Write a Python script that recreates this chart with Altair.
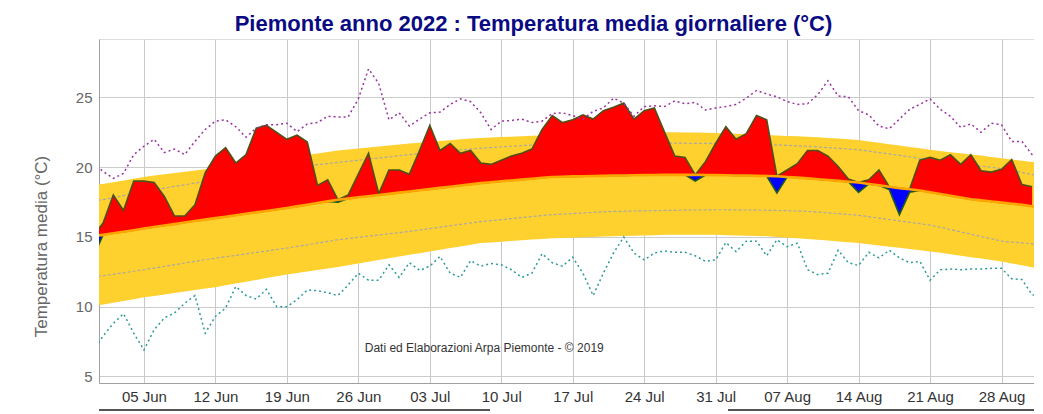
import altair as alt
import pandas as pd
import numpy as np

TITLE = "Piemonte anno 2022 : Temperatura media giornaliere (°C)"
Y_TITLE = "Temperatura media (°C)"
NOTE = "Dati ed Elaborazioni Arpa Piemonte - © 2019"
START = "2022-05-31"

# 2022 daily mean temperature (31 May .. 31 Aug)
actual = [13.5, 16.0, 18.0, 16.9, 19.0, 19.0, 18.9, 17.9, 16.5, 16.5, 17.3, 19.6, 20.8, 21.4, 20.3,
          20.9, 22.8, 23.0, 22.5, 22.0, 22.3, 21.8, 18.7, 19.1, 17.5, 18.0, 19.5, 21.0, 18.1, 19.8,
          19.8, 19.5, 21.2, 23.0, 21.2, 21.7, 21.0, 21.2, 20.3, 20.2, 20.5, 20.8, 21.0, 21.3, 22.7,
          23.7, 23.2, 23.4, 23.75, 23.45, 24.05, 24.3, 24.6, 23.45, 24.05, 24.25, 22.5, 20.8, 20.7,
          19.0, 20.4, 21.7, 22.9, 22.0, 22.4, 23.7, 23.4, 18.15, 19.8, 20.25, 21.2, 21.2, 20.8, 20.05,
          19.15, 18.2, 19.1, 19.8, 18.4, 16.6, 18.2, 20.5, 20.7, 20.5, 20.9, 20.2, 20.9, 19.75, 19.65,
          19.85, 20.55, 18.75, 18.6]

# climatology (31 May .. 1 Sep)
median = [15.05, 15.15, 15.26, 15.37, 15.48, 15.6,
          15.71, 15.82, 15.92, 16.03, 16.14, 16.24, 16.35,
          16.45, 16.55, 16.66, 16.76, 16.86, 16.97, 17.07,
          17.19, 17.31, 17.43, 17.55, 17.67,
          17.75, 17.84, 17.92, 18.01, 18.09, 18.18, 18.26,
          18.35, 18.43, 18.52, 18.6, 18.69, 18.77, 18.86,
          18.92, 18.99, 19.05, 19.11, 19.17, 19.24, 19.3,
          19.32, 19.34, 19.35, 19.37, 19.38, 19.4,
          19.41, 19.42, 19.43, 19.44, 19.45, 19.45, 19.45, 19.45,
          19.44, 19.43, 19.42, 19.41, 19.4, 19.38, 19.37, 19.35,
          19.3, 19.25, 19.2,
          19.14, 19.08, 19.02, 18.96, 18.9,
          18.8, 18.7, 18.6, 18.5, 18.42, 18.33,
          18.2, 18.08, 17.95, 17.83, 17.7,
          17.62, 17.54, 17.46, 17.38, 17.3, 17.2, 17.0]

band_high = [18.75, 18.8, 18.92, 19.05, 19.18, 19.3,
             19.4, 19.5, 19.58, 19.67, 19.76, 19.86, 19.95,
             20.05, 20.15, 20.25, 20.35, 20.45, 20.55, 20.65,
             20.76, 20.87, 20.98, 21.09, 21.2,
             21.27, 21.34, 21.41, 21.48, 21.55, 21.62, 21.7,
             21.76, 21.82, 21.88, 21.94, 22.0, 22.05, 22.1,
             22.13, 22.16, 22.19, 22.22, 22.25, 22.28, 22.3,
             22.33, 22.36, 22.38, 22.4, 22.43, 22.45,
             22.46, 22.47, 22.48, 22.49, 22.5,
             22.5, 22.49, 22.48, 22.47, 22.45,
             22.42, 22.39, 22.36, 22.33, 22.3,
             22.27, 22.24, 22.21, 22.18, 22.15,
             22.1, 22.05, 22.0, 21.95,
             21.85, 21.75, 21.65, 21.55, 21.45, 21.35, 21.25,
             21.16, 21.08, 21.0, 20.91, 20.83, 20.74, 20.65,
             20.56, 20.47, 20.38, 20.3]

band_low = [10.1, 10.15, 10.28, 10.41, 10.54, 10.67,
            10.77, 10.88, 10.98, 11.09, 11.19, 11.3, 11.4,
            11.53, 11.66, 11.79, 11.92, 12.05, 12.18, 12.3,
            12.41, 12.52, 12.63, 12.74, 12.84,
            12.97, 13.09, 13.22, 13.34, 13.47, 13.6, 13.72,
            13.84, 13.96, 14.08, 14.2, 14.32, 14.44, 14.56,
            14.61, 14.66, 14.71, 14.76, 14.81, 14.86, 14.9,
            14.93, 14.95, 14.98, 15.0, 15.03, 15.05,
            15.07, 15.09, 15.11, 15.13, 15.15,
            15.15, 15.15, 15.15, 15.15, 15.15,
            15.13, 15.11, 15.09, 15.07, 15.05,
            15.0, 14.95, 14.9, 14.85, 14.8,
            14.74, 14.68, 14.62, 14.56,
            14.47, 14.39, 14.3, 14.22, 14.13, 14.05, 13.96,
            13.86, 13.76, 13.65, 13.55, 13.45, 13.34, 13.24,
            13.1, 12.97, 12.83, 12.7]

inner_high = [17.6, 17.67, 17.82, 17.96, 18.11, 18.26,
              18.38, 18.5, 18.62, 18.74, 18.86, 18.98, 19.1,
              19.22, 19.34, 19.46, 19.58, 19.7, 19.82, 19.94,
              20.02, 20.1, 20.18, 20.26, 20.34,
              20.42, 20.5, 20.58, 20.66, 20.74, 20.82, 20.9,
              20.97, 21.04, 21.1, 21.17, 21.24, 21.3, 21.37,
              21.41, 21.46, 21.5, 21.55, 21.59, 21.64, 21.68,
              21.69, 21.7, 21.71, 21.71, 21.72, 21.73,
              21.73, 21.73, 21.73, 21.73, 21.73,
              21.72, 21.72, 21.71, 21.71, 21.7,
              21.68, 21.67, 21.65, 21.63, 21.62, 21.6,
              21.57, 21.53, 21.5,
              21.45, 21.4, 21.35, 21.3, 21.25,
              21.15, 21.05, 20.95, 20.85, 20.75, 20.62, 20.5,
              20.42, 20.33, 20.25, 20.16, 20.08, 19.99, 19.9,
              19.76, 19.62, 19.48, 19.35]

inner_low = [12.15, 12.22, 12.33, 12.43, 12.54, 12.65,
             12.77, 12.89, 13.01, 13.13, 13.25, 13.37, 13.48,
             13.58, 13.68, 13.79, 13.89, 13.99, 14.1, 14.2,
             14.32, 14.44, 14.56, 14.68, 14.8,
             14.89, 14.97, 15.06, 15.14, 15.23, 15.31, 15.4,
             15.5, 15.6, 15.7, 15.8, 15.9, 16.0, 16.1,
             16.17, 16.24, 16.31, 16.39, 16.46, 16.53, 16.6,
             16.64, 16.68, 16.72, 16.76, 16.8, 16.83,
             16.84, 16.86, 16.87, 16.89, 16.9,
             16.91, 16.92, 16.93, 16.94, 16.95,
             16.95, 16.94, 16.93, 16.92, 16.91, 16.9,
             16.88, 16.86, 16.83,
             16.78, 16.73, 16.67, 16.61, 16.55,
             16.45, 16.35, 16.25, 16.15, 16.05, 15.95, 15.85,
             15.69, 15.53, 15.36, 15.2,
             15.03, 14.87, 14.7,
             14.63, 14.57, 14.51, 14.45]

record_max = [20.3, 19.7, 19.2, 19.55, 20.9, 21.5, 22.0, 21.05, 21.3, 20.9, 21.85, 22.7, 23.3, 23.4,
              22.9, 22.15, 22.8, 23.05, 23.05, 23.15, 22.55, 23.1, 23.2, 23.65, 23.6, 23.6, 24.9,
              27.05, 26.0, 23.4, 23.9, 22.95, 23.45, 23.9, 23.95, 24.5, 24.9, 24.7, 23.9, 22.7,
              23.3, 23.35, 23.45, 23.2, 23.3, 23.85, 23.9, 23.7, 23.45, 24.0, 24.25, 24.95, 24.6,
              23.65, 24.35, 24.4, 24.35, 24.75, 24.55, 24.65, 24.1, 24.25, 24.35, 24.5, 24.95,
              25.5, 25.25, 25.05, 24.7, 24.5, 24.55, 25.2, 26.2, 25.1, 25.05, 24.05, 23.75, 22.95,
              22.75, 23.45, 24.15, 24.5, 24.9, 24.15, 23.65, 22.85, 23.1, 22.5, 23.15, 23.05,
              21.85, 21.85, 20.9, 20.4]

record_min = [6.8, 7.9, 8.8, 9.5, 8.1, 6.9, 8.35, 9.2, 9.55, 10.25, 10.8, 8.1, 9.3, 9.9, 11.45,
              10.8, 10.55, 11.25, 10.0, 10.0, 10.5, 11.2, 11.15, 11.0, 10.8, 11.55, 12.4, 11.9,
              11.9, 13.0, 12.1, 13.15, 12.6, 12.9, 13.6, 12.4, 12.1, 13.3, 12.9, 13.1, 13.0, 12.65,
              12.1, 12.4, 13.8, 13.15, 12.9, 13.55, 12.4, 10.8, 12.4, 13.85, 15.0, 13.85, 13.35,
              13.85, 14.0, 13.9, 13.9, 13.65, 13.25, 13.35, 14.6, 13.95, 14.7, 14.7, 13.65, 14.8,
              14.3, 14.55, 12.65, 12.3, 12.4, 14.05, 13.15, 12.95, 13.9, 13.5, 14.05, 13.5, 13.15,
              13.25, 11.9, 12.65, 12.7, 12.65, 12.7, 12.7, 12.75, 12.75, 12.0, 11.95, 10.85, 10.75]

TICK_DAYS = [(6, 5), (6, 12), (6, 19), (6, 26), (7, 3), (7, 10), (7, 17), (7, 24), (7, 31),
             (8, 7), (8, 14), (8, 21), (8, 28)]
Y_TICKS = [5, 10, 15, 20, 25]

dates = pd.date_range(START, periods=len(median), freq="D")
df = pd.DataFrame({
    "date": dates,
    "median": median,
    "band_high": band_high,
    "band_low": band_low,
    "inner_high": inner_high,
    "inner_low": inner_low,
    "record_max": record_max,
    "record_min": record_min,
})
df["actual"] = actual + [np.nan] * (len(median) - len(actual))
df["above"] = np.where(df["actual"].notna(), np.maximum(df["actual"], df["median"]), np.nan)
df["below"] = np.where(df["actual"].notna(), np.minimum(df["actual"], df["median"]), np.nan)

FONT = "Liberation Sans"

x_scale = alt.Scale(domain=[alt.DateTime(year=2022, month=5, date=31, hours=14, minutes=22),
                            alt.DateTime(year=2022, month=8, date=31, hours=18, minutes=29)])
x_axis = alt.Axis(values=[alt.DateTime(year=2022, month=m, date=d) for m, d in TICK_DAYS],
                  format="%d %b", title=None, labelFont=FONT, labelFontSize=15,
                  labelColor="#333333", labelPadding=6, tickSize=0, grid=True,
                  gridColor="#c8c8c8", gridWidth=1, domainColor="#a0a0a0", domainWidth=1,
                  labelFlush=False)
y_scale = alt.Scale(domain=[4.53, 29.19], nice=False, zero=False)
y_axis = alt.Axis(values=Y_TICKS, title=Y_TITLE, titleFont=FONT, titleFontSize=17,
                  titleFontWeight="normal", titleColor="#666666", titleAngle=270,
                  titleAlign="center", titleBaseline="alphabetic", titleX=-53, titleY=207,
                  labelFont=FONT, labelFontSize=15, labelColor="#666666", labelPadding=7,
                  tickSize=0, grid=True, gridColor="#cccccc", gridWidth=1,
                  domainColor="#a0a0a0", domainWidth=1)

X = alt.X("date:T", scale=x_scale, axis=x_axis)


def Y(field):
    return alt.Y(f"{field}:Q", scale=y_scale, axis=y_axis)


base = alt.Chart(df)

band = base.mark_area(color="#FED12E", clip=True).encode(x=X, y=Y("band_high"), y2="band_low:Q")
inner_hi = base.mark_line(color="#a8a8a8", strokeWidth=1.2, strokeDash=[3, 2], clip=True).encode(
    x=X, y=Y("inner_high"))
inner_lo = base.mark_line(color="#a8a8a8", strokeWidth=1.2, strokeDash=[3, 2], clip=True).encode(
    x=X, y=Y("inner_low"))
red = base.mark_area(color="#FF0000", clip=True).encode(x=X, y=Y("above"), y2="median:Q")
blue = base.mark_area(color="#0000FF", clip=True).encode(x=X, y=Y("below"), y2="median:Q")
line_above = base.mark_line(color="#4f4f18", strokeWidth=1.6, clip=True).encode(x=X, y=Y("above"))
line_below = base.mark_line(color="#1e5a1e", strokeWidth=1.6, clip=True).encode(x=X, y=Y("below"))
med = base.mark_line(color="#FFA500", strokeWidth=2.6, clip=True).encode(x=X, y=Y("median"))
rmax = base.mark_line(color="#9933a0", strokeWidth=1.5, strokeDash=[2, 3], clip=True).encode(
    x=X, y=Y("record_max"))
rmin = base.mark_line(color="#2e9a9a", strokeWidth=1.5, strokeDash=[2, 3], clip=True).encode(
    x=X, y=Y("record_min"))

note_df = pd.DataFrame({"date": [pd.Timestamp("2022-07-08 08:00")], "v": [7.05], "t": [NOTE]})
note = alt.Chart(note_df).mark_text(font=FONT, fontSize=12, color="#333333", baseline="middle",
                                    align="center").encode(x=X, y=Y("v"), text="t:N")

bar_df = pd.DataFrame({"k": [0]})
bar1 = alt.Chart(bar_df).mark_rule(color="#555555", strokeWidth=2).encode(
    x=alt.value(0), x2=alt.value(391), y=alt.value(371))
bar2 = alt.Chart(bar_df).mark_rule(color="#555555", strokeWidth=2).encode(
    x=alt.value(629), x2=alt.value(941), y=alt.value(371))

chart = alt.layer(band, inner_hi, inner_lo, red, blue, line_above, line_below, med, rmax, rmin,
                  note, bar1, bar2).properties(
    width=941, height=344,
    title=alt.TitleParams(TITLE, font=FONT, fontSize=22, fontWeight="bold", color="#0a0a82",
                          anchor="middle", frame="group", dx=-36, dy=24,
                          baseline="alphabetic", offset=10),
    autosize=alt.AutoSizeParams(type="none"),
    padding={"left": 91, "top": 31, "right": -6, "bottom": 30},
).configure_view(stroke=None).configure(background="white")

chart.save("out.html", embed_options={"renderer": "svg", "actions": False})
